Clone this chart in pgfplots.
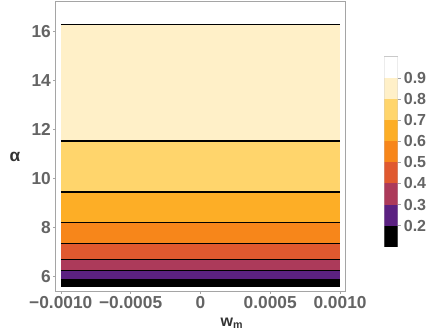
\documentclass[border=0pt]{standalone}
\usepackage{fontspec}
\setmainfont{Liberation Sans}
\usepackage{pgfplots}
\pgfplotsset{compat=1.18}

\definecolor{c1}{RGB}{0,0,0}
\definecolor{c2}{RGB}{91,33,129}
\definecolor{c3}{RGB}{172,58,90}
\definecolor{c4}{RGB}{224,89,47}
\definecolor{c5}{RGB}{247,134,26}
\definecolor{c6}{RGB}{253,174,38}
\definecolor{c7}{RGB}{255,213,108}
\definecolor{c8}{RGB}{255,240,200}
\definecolor{framegray}{RGB}{165,165,165}
\definecolor{ticktext}{RGB}{100,100,100}

% contour levels (alpha where value = 0.2 ... 0.9)
\newcommand{\band}[3]{\addplot[fill=#1,draw=none] coordinates {(-0.001,#2) (0.001,#2) (0.001,#3) (-0.001,#3)} -- cycle;}
\newcommand{\contline}[1]{\addplot[black,line width=0.9pt] coordinates {(-0.001,#1) (0.001,#1)};}
\newcommand{\cbar}[3]{\addplot[fill=#1,draw=none] coordinates {(0,#2) (1,#2) (1,#3) (0,#3)} -- cycle;}

\begin{document}
\begin{tikzpicture}
\useasboundingbox (0,0) rectangle (327pt,251.25pt);

\begin{axis}[
  scale only axis,
  width=217pt, height=217pt,
  at={(41.8pt,33pt)}, anchor=south west,
  xmin=-0.001036, xmax=0.001036,
  ymin=5.39, ymax=17.2,
  xtick={-0.001,-0.0005,0,0.0005,0.001},
  xticklabels={−0.0010,−0.0005,0,0.0005,0.0010},
  ytick={6,8,10,12,14,16},
  yticklabels={6,8,10,12,14,16},
  scaled x ticks=false,
  xtick pos=bottom, ytick pos=left,
  tick align=outside, major tick length=2pt,
  tick style={framegray},
  axis line style={framegray,line width=0.6pt},
  ticklabel style={font=\bfseries\fontsize{13}{15}\selectfont, text=ticktext},
  y tick label style={inner sep=1.5pt},
  x tick label style={inner sep=2pt},
  xlabel={w\textsubscript{m}},
  xlabel style={at={(axis description cs:0.609,-0.111)}, anchor=center,
    font=\bfseries\fontsize{12}{14}\selectfont, text=black!80},
  ylabel={α},
  ylabel style={at={(axis description cs:-0.141,0.463)}, rotate=-90, anchor=center,
    font=\bfseries\fontsize{13}{15}\selectfont, text=black!80},
]
\band{c8}{11.51}{16.26}
\band{c7}{9.43}{11.51}
\band{c6}{8.18}{9.43}
\band{c5}{7.33}{8.18}
\band{c4}{6.69}{7.33}
\band{c3}{6.22}{6.69}
\band{c2}{5.87}{6.22}
\band{c1}{5.56}{5.87}
\contline{16.26}
\contline{11.51}
\contline{9.43}
\contline{8.18}
\contline{7.33}
\contline{6.69}
\contline{6.22}
\contline{5.87}
\end{axis}

\begin{axis}[
  scale only axis,
  width=10pt, height=142.5pt,
  at={(288.2pt,66.2pt)}, anchor=south west,
  xmin=0, xmax=1, ymin=0.1, ymax=1.0,
  xtick=\empty,
  ytick={0.2,0.3,0.4,0.5,0.6,0.7,0.8,0.9},
  yticklabels={0.2,0.3,0.4,0.5,0.6,0.7,0.8,0.9},
  ytick pos=right, yticklabel pos=right,
  tick align=outside, major tick length=2.5pt,
  tick style={framegray},
  axis line style={framegray!60,line width=0.4pt},
  ticklabel style={font=\bfseries\fontsize{12}{14}\selectfont, text=ticktext},
  y tick label style={inner sep=2pt},
]
\cbar{c1}{0.1}{0.2}
\cbar{c2}{0.2}{0.3}
\cbar{c3}{0.3}{0.4}
\cbar{c4}{0.4}{0.5}
\cbar{c5}{0.5}{0.6}
\cbar{c6}{0.6}{0.7}
\cbar{c7}{0.7}{0.8}
\cbar{c8}{0.8}{0.9}
\cbar{white}{0.9}{1.0}
\end{axis}
\end{tikzpicture}
\end{document}
